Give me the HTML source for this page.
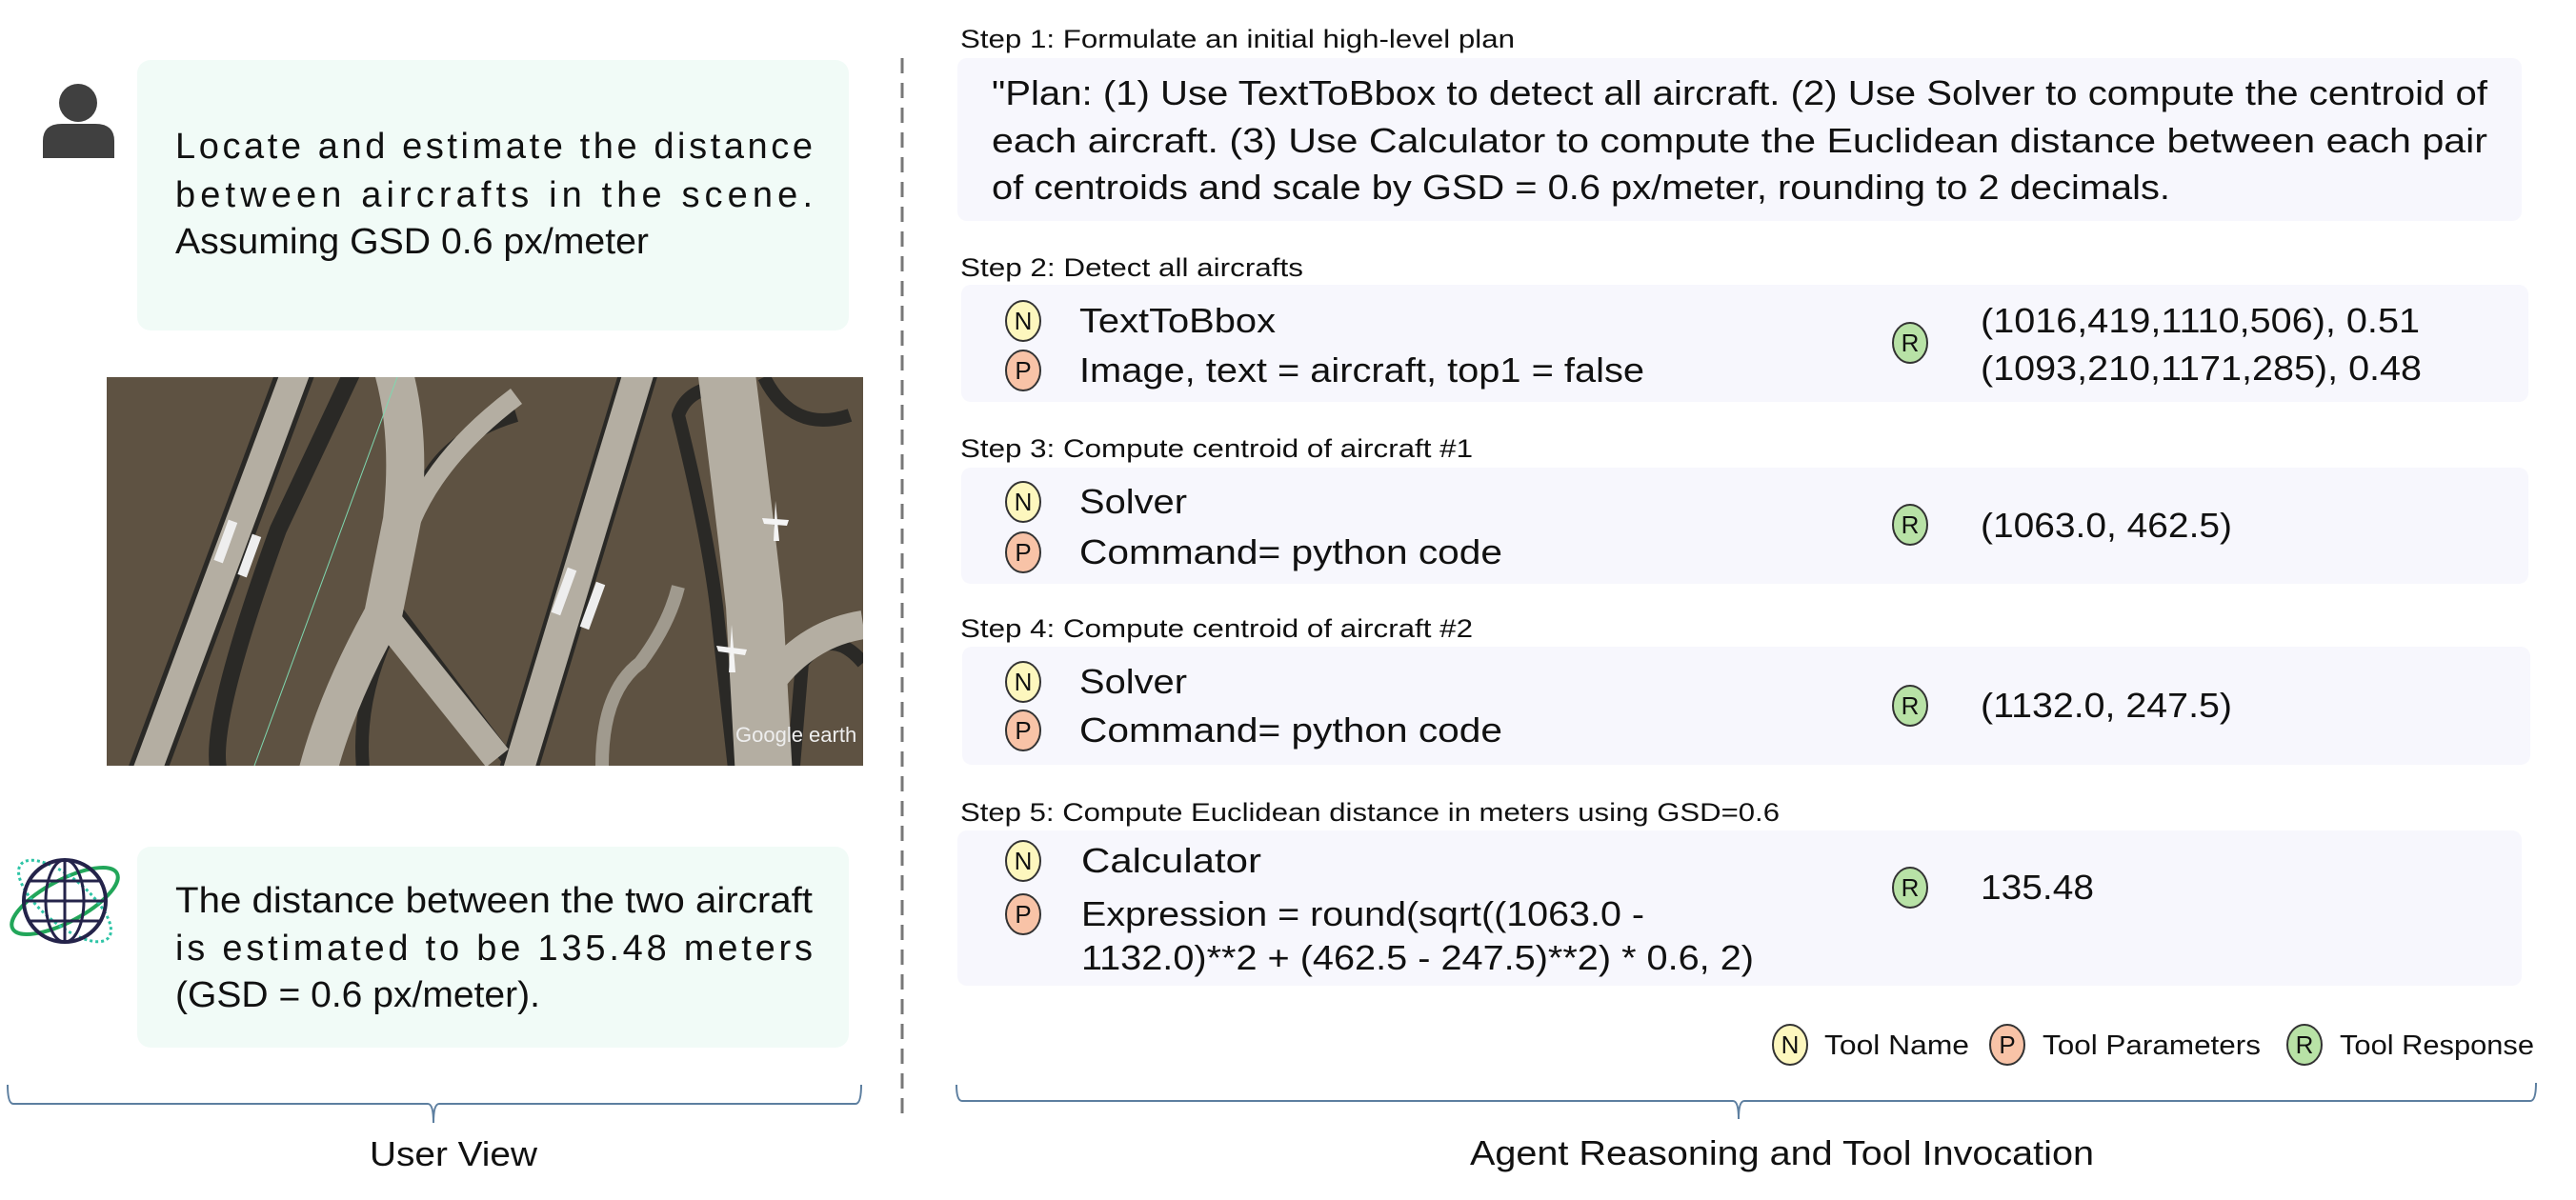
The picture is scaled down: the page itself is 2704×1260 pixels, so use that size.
<!DOCTYPE html>
<html><head><meta charset="utf-8"><style>
html,body{margin:0;padding:0;background:#fff;width:2704px;height:1260px;overflow:hidden}
svg{display:block}
text{font-family:"Liberation Sans",sans-serif;fill:#111}
</style></head><body>
<svg width="2704" height="1260" viewBox="0 0 2704 1260" xmlns="http://www.w3.org/2000/svg">
<circle cx="82" cy="108" r="20" fill="#404040"/>
<path d="M45 166 V148 Q45 130 65 130 H100 Q120 130 120 148 V166 Z" fill="#404040"/>
<rect x="144" y="63" width="747" height="284" rx="14" fill="#f1fbf7"/>
<text x="184" y="166" font-size="38" textLength="669" lengthAdjust="spacing">Locate and estimate the distance</text>
<text x="184" y="217" font-size="38" textLength="669" lengthAdjust="spacing">between aircrafts in the scene.</text>
<text x="184" y="266" font-size="38" textLength="497" lengthAdjust="spacingAndGlyphs">Assuming GSD 0.6 px/meter</text>
<svg x="112" y="396" width="794" height="408" viewBox="0 0 794 408">
<rect width="794" height="408" fill="#5e5242"/>
<g fill="none" stroke="#2a2926" stroke-width="40" stroke-linejoin="round">
<path d="M40 420 L200 -10"/>
<path d="M120 420 Q100 380 180 160 L260 -10" stroke-width="18"/>
<path d="M430 420 L560 -10"/>
<path d="M270 420 Q260 340 300 260 L320 160 Q330 70 430 40" stroke-width="14"/>
<path d="M300 240 L420 400" stroke-width="14"/>
<path d="M660 420 L640 240 Q630 160 600 40 Q610 10 650 10" stroke-width="14"/>
<path d="M720 420 L730 300 Q760 260 794 300" stroke-width="14"/>
<path d="M690 0 Q720 60 780 40" stroke-width="14"/>
</g>
<g fill="none" stroke="#b4aea2" stroke-linejoin="round">
<path d="M40 420 L200 -10" stroke-width="30"/>
<path d="M430 420 L560 -10" stroke-width="32"/>
<path d="M220 420 Q240 340 290 250 L310 150 Q320 60 300 -10" stroke-width="40"/>
<path d="M290 250 L410 400" stroke-width="30"/>
<path d="M320 150 Q350 80 430 20" stroke-width="20"/>
<path d="M690 420 L680 240 Q670 150 650 -10" stroke-width="60"/>
<path d="M520 408 Q520 330 560 300 Q590 260 600 220" stroke="#a09a8e" stroke-width="14"/>
<path d="M690 330 Q730 270 794 260" stroke-width="30"/>
</g>
<g fill="#eee"><rect x="120" y="150" width="10" height="45" transform="rotate(20 125 172)"/><rect x="145" y="165" width="10" height="45" transform="rotate(20 150 187)"/><rect x="475" y="200" width="10" height="50" transform="rotate(20 480 225)"/><rect x="505" y="215" width="10" height="50" transform="rotate(20 510 240)"/></g>
<line x1="155" y1="408" x2="305" y2="0" stroke="#7fd8b0" stroke-width="1"/>
<g fill="#f4f4f4"><path d="M702 130 L706 172 L700 172 Z"/><path d="M688 148 L716 150 L714 156 L690 154 Z"/><path d="M656 260 L660 310 L653 310 Z"/><path d="M640 282 L672 286 L670 292 L642 288 Z"/></g>
<text x="660" y="383" font-family="Liberation Serif,serif" font-size="22" style="fill:#eee">Google earth</text>
</svg>
<g fill="none">
<ellipse cx="68" cy="946" rx="62" ry="22" transform="rotate(-28 68 946)" stroke="#22a65a" stroke-width="4"/>
<ellipse cx="68" cy="946" rx="60" ry="24" transform="rotate(40 68 946)" stroke="#2ec4a6" stroke-width="3" stroke-dasharray="3 3"/>
<circle cx="68" cy="946" r="43" stroke="#24234a" stroke-width="4"/>
<ellipse cx="68" cy="946" rx="20" ry="43" stroke="#24234a" stroke-width="3"/>
<line x1="68" y1="903" x2="68" y2="989" stroke="#24234a" stroke-width="3"/>
<line x1="25" y1="946" x2="111" y2="946" stroke="#24234a" stroke-width="3"/>
<line x1="32" y1="925" x2="104" y2="925" stroke="#24234a" stroke-width="3"/>
<line x1="32" y1="967" x2="104" y2="967" stroke="#24234a" stroke-width="3"/>
</g>
<rect x="144" y="889" width="747" height="211" rx="14" fill="#f1fbf7"/>
<text x="184" y="958" font-size="38" textLength="669" lengthAdjust="spacingAndGlyphs">The distance between the two aircraft</text>
<text x="184" y="1008" font-size="38" textLength="669" lengthAdjust="spacing">is estimated to be 135.48 meters</text>
<text x="184" y="1057" font-size="38" textLength="383" lengthAdjust="spacingAndGlyphs">(GSD = 0.6 px/meter).</text>
<g fill="none" stroke="#5d7fa0" stroke-width="2">
<path d="M8 1139 Q8 1159 14 1159 H449 Q455 1159 455 1179 Q455 1159 461 1159 H898 Q904 1159 904 1139"/>
<path d="M1004 1139 Q1004 1156 1010 1156 H1819 Q1825 1156 1825 1175 Q1825 1156 1831 1156 H2656 Q2662 1156 2662 1137"/>
</g>
<line x1="947" y1="61" x2="947" y2="1172" stroke="#777" stroke-width="3" stroke-dasharray="16 10"/>
<text x="388" y="1224" font-size="36" textLength="176" lengthAdjust="spacingAndGlyphs">User View</text>
<text x="1543" y="1223" font-size="36" textLength="655" lengthAdjust="spacingAndGlyphs">Agent Reasoning and Tool Invocation</text>
<g font-size="27">
<text x="1008" y="50" textLength="582" lengthAdjust="spacingAndGlyphs">Step 1: Formulate an initial high-level plan</text>
<text x="1008" y="290" textLength="360" lengthAdjust="spacingAndGlyphs">Step 2: Detect all aircrafts</text>
<text x="1008" y="480" textLength="538" lengthAdjust="spacingAndGlyphs">Step 3: Compute centroid of aircraft #1</text>
<text x="1008" y="669" textLength="538" lengthAdjust="spacingAndGlyphs">Step 4: Compute centroid of aircraft #2</text>
<text x="1008" y="862" textLength="860" lengthAdjust="spacingAndGlyphs">Step 5: Compute Euclidean distance in  meters using GSD=0.6</text>
</g>
<g fill="#f7f7fd">
<rect x="1005" y="61" width="1642" height="171" rx="10"/>
<rect x="1009" y="299" width="1645" height="123" rx="10"/>
<rect x="1009" y="491" width="1645" height="122" rx="10"/>
<rect x="1010" y="679" width="1646" height="124" rx="10"/>
<rect x="1005" y="872" width="1642" height="163" rx="10"/>
</g>
<g font-size="36">
<text x="1041" y="110" textLength="1570" lengthAdjust="spacingAndGlyphs">"Plan: (1) Use TextToBbox to detect all aircraft. (2) Use Solver to compute the centroid of</text>
<text x="1041" y="160" textLength="1570" lengthAdjust="spacingAndGlyphs">each aircraft. (3) Use Calculator to compute the Euclidean distance between each pair</text>
<text x="1041" y="209" textLength="1237" lengthAdjust="spacingAndGlyphs">of centroids and scale by GSD = 0.6 px/meter, rounding to 2 decimals.</text>
<text x="1133" y="349" textLength="206" lengthAdjust="spacingAndGlyphs">TextToBbox</text>
<text x="1133" y="401" textLength="593" lengthAdjust="spacingAndGlyphs">Image, text = aircraft, top1 = false</text>
<text x="2079" y="349" textLength="461" lengthAdjust="spacingAndGlyphs">(1016,419,1110,506), 0.51</text>
<text x="2079" y="399" textLength="463" lengthAdjust="spacingAndGlyphs">(1093,210,1171,285), 0.48</text>
<text x="1133" y="539" textLength="113" lengthAdjust="spacingAndGlyphs">Solver</text>
<text x="1133" y="592" textLength="444" lengthAdjust="spacingAndGlyphs">Command= python code</text>
<text x="2079" y="564" textLength="264" lengthAdjust="spacingAndGlyphs">(1063.0, 462.5)</text>
<text x="1133" y="728" textLength="113" lengthAdjust="spacingAndGlyphs">Solver</text>
<text x="1133" y="779" textLength="444" lengthAdjust="spacingAndGlyphs">Command= python code</text>
<text x="2079" y="753" textLength="264" lengthAdjust="spacingAndGlyphs">(1132.0, 247.5)</text>
<text x="1135" y="916" textLength="189" lengthAdjust="spacingAndGlyphs">Calculator</text>
<text x="1135" y="972" textLength="591" lengthAdjust="spacingAndGlyphs">Expression = round(sqrt((1063.0 -</text>
<text x="1135" y="1018" textLength="706" lengthAdjust="spacingAndGlyphs">1132.0)**2 + (462.5 - 247.5)**2) * 0.6, 2)</text>
<text x="2079" y="944" textLength="119" lengthAdjust="spacingAndGlyphs">135.48</text>
</g>
<defs>
<g id="N"><ellipse rx="18" ry="21" fill="#fdf7be" stroke="#333" stroke-width="2"/><text y="9" text-anchor="middle" font-size="26">N</text></g>
<g id="P"><ellipse rx="18" ry="21" fill="#f8c3a7" stroke="#333" stroke-width="2"/><text y="9" text-anchor="middle" font-size="26">P</text></g>
<g id="R"><ellipse rx="18" ry="21" fill="#b8e2a6" stroke="#333" stroke-width="2"/><text y="9" text-anchor="middle" font-size="26">R</text></g>
</defs>
<use href="#N" x="1074" y="337"/><use href="#P" x="1074" y="389"/><use href="#R" x="2005" y="360"/>
<use href="#N" x="1074" y="527"/><use href="#P" x="1074" y="580"/><use href="#R" x="2005" y="551"/>
<use href="#N" x="1074" y="716"/><use href="#P" x="1074" y="767"/><use href="#R" x="2005" y="741"/>
<use href="#N" x="1074" y="904"/><use href="#P" x="1074" y="960"/><use href="#R" x="2005" y="932"/>
<use href="#N" x="1879" y="1097"/><use href="#P" x="2107" y="1097"/><use href="#R" x="2419" y="1097"/>
<g font-size="29">
<text x="1915" y="1107" textLength="152" lengthAdjust="spacingAndGlyphs">Tool Name</text>
<text x="2144" y="1107" textLength="229" lengthAdjust="spacingAndGlyphs">Tool Parameters</text>
<text x="2456" y="1107" textLength="204" lengthAdjust="spacingAndGlyphs">Tool Response</text>
</g>
</svg>
</body></html>
